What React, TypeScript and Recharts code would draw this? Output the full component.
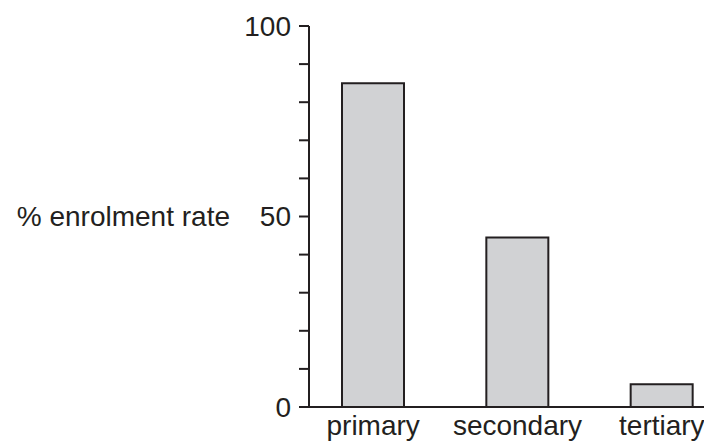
import React from "react";
import { BarChart, Bar, XAxis, YAxis, Label } from "recharts";

const categories = ["primary", "secondary", "tertiary"];
const enrolment = [85, 44.5, 6];
const yTicks = [0, 10, 20, 30, 40, 50, 60, 70, 80, 90, 100];
const yLabelled = [0, 50, 100];

const data = categories.map((name, i) => ({ name, rate: enrolment[i] }));

const ink = "#231f20";
const font = { fontFamily: "Liberation Sans, Arial, sans-serif", fontSize: 28, fill: ink };

const App: React.FC = () => {
  return (
    <div style={{ width: 704, height: 438 }}>
      <BarChart width={704} height={438} data={data} margin={{ top: 18, right: 0, bottom: 0, left: 0 }}>
        <XAxis
          dataKey="name"
          height={39}
          padding={{ left: -8, right: -22 }}
          tickLine={false}
          tickSize={0}
          tickMargin={8}
          axisLine={{ stroke: ink, strokeWidth: 2 }}
          tick={font}
          interval={0}
        />
        <YAxis
          width={301}
          domain={[0, 100]}
          ticks={yTicks}
          interval={0}
          tickSize={10}
          tickMargin={8}
          tickLine={{ stroke: ink, strokeWidth: 2 }}
          axisLine={{ stroke: ink, strokeWidth: 2 }}
          tick={font}
          tickFormatter={(v: number) => (yLabelled.includes(v) ? String(v) : "")}
        >
          <Label value="% enrolment rate" position="insideRight" offset={79} style={font} />
        </YAxis>
        <Bar dataKey="rate" barSize={62} fill="#d1d2d4" stroke={ink} strokeWidth={2} isAnimationActive={false} />
      </BarChart>
    </div>
  );
};

export default App;
